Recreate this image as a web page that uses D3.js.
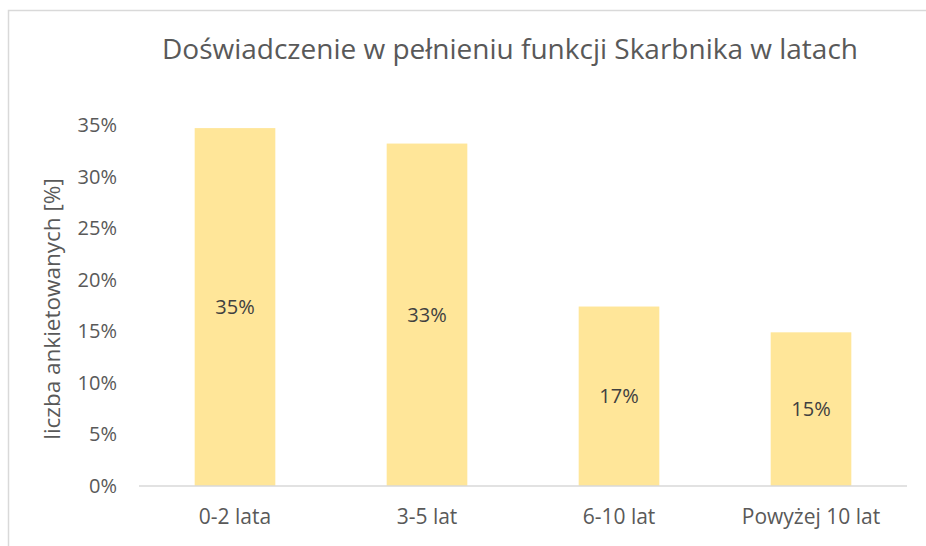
<!DOCTYPE html>
<html>
<head>
<meta charset="utf-8">
<script src="https://cdn.jsdelivr.net/npm/d3@7"></script>
<style>
  body { margin: 0; background: #fff; }
  text { font-family: "Open Sans", "Noto Sans", sans-serif; fill: #595959; }
</style>
</head>
<body>
<div id="main"></div>
<script>
const categories = ["0-2 lata", "3-5 lat", "6-10 lat", "Powyżej 10 lat"];
const values = [34.7, 33.2, 17.4, 14.9];
const valueLabels = ["35%", "33%", "17%", "15%"];
const yTicks = [0, 5, 10, 15, 20, 25, 30, 35];

const w = 926, h = 546;
const plotLeft = 139, plotRight = 907, plotTop = 125, plotBottom = 486;

const svg = d3.select("#main").append("svg")
  .attr("width", w).attr("height", h);

// outer frame
svg.append("rect")
  .attr("x", 8.5).attr("y", 10.5)
  .attr("width", 930).attr("height", 550)
  .attr("fill", "none").attr("stroke", "#d9d9d9").attr("stroke-width", 1.5);

const x = d3.scaleBand().domain(categories).range([plotLeft, plotRight]).paddingInner(0.58).paddingOuter(0.29);
const y = d3.scaleLinear().domain([0, 35]).range([plotBottom, plotTop]);

svg.append("text")
  .attr("x", 510).attr("y", 59)
  .attr("text-anchor", "middle")
  .style("font-size", "28px")
  .text("Doświadczenie w pełnieniu funkcji Skarbnika w latach");

// y ticks
svg.selectAll(".ytick").data(yTicks).enter().append("text")
  .attr("class", "ytick")
  .attr("x", 117).attr("y", d => y(d))
  .attr("dy", "0.35em")
  .attr("text-anchor", "end")
  .style("font-size", "20px")
  .text(d => d + "%");

svg.selectAll(".bar").data(values).enter().append("rect")
  .attr("class", "bar")
  .attr("x", (d, i) => x(categories[i]))
  .attr("y", d => y(d))
  .attr("width", x.bandwidth())
  .attr("height", d => plotBottom - y(d))
  .attr("fill", "#FFE699");

svg.selectAll(".lbl").data(values).enter().append("text")
  .attr("class", "lbl")
  .attr("x", (d, i) => x(categories[i]) + x.bandwidth() / 2)
  .attr("y", d => (y(d) + plotBottom) / 2)
  .attr("dy", "0.35em")
  .attr("text-anchor", "middle")
  .style("font-size", "20px")
  .style("fill", "#404040")
  .text((d, i) => valueLabels[i]);

// baseline
svg.append("line")
  .attr("x1", plotLeft).attr("x2", plotRight)
  .attr("y1", plotBottom).attr("y2", plotBottom)
  .attr("stroke", "#d9d9d9").attr("stroke-width", 1.5);

const xAxis = svg.append("g")
  .attr("transform", "translate(0," + plotBottom + ")")
  .call(d3.axisBottom(x).tickSize(0).tickPadding(23));
xAxis.select(".domain").remove();
xAxis.selectAll("text")
  .style("font-size", "21px")
  .style("font-family", "'Open Sans', sans-serif")
  .attr("fill", "#595959");

svg.append("text")
  .attr("transform", "translate(52,309) rotate(-90)")
  .attr("dy", "0.35em")
  .attr("text-anchor", "middle")
  .style("font-size", "22.5px")
  .text("liczba ankietowanych [%]");
</script>
</body>
</html>
